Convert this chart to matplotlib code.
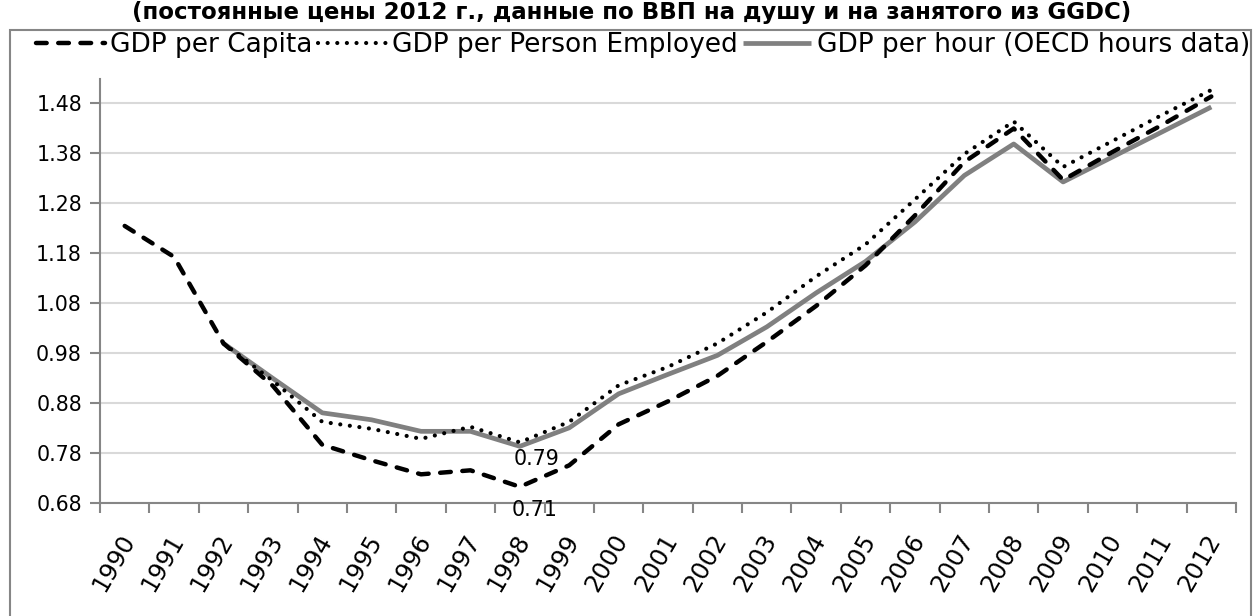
#!/usr/bin/env python3
# -*- coding: utf-8 -*-

import matplotlib
matplotlib.use('Agg')
import matplotlib.pyplot as plt
import matplotlib.transforms as mtransforms
from matplotlib.patches import Rectangle
import numpy as np

plt.rcParams['font.family'] = ['DejaVu Sans']

years = [str(y) for y in range(1990, 2013)]

# GDP per capita, 1990-2012 (1992 = 1)
per_capita = [1.235, 1.173, 1.0, 0.915, 0.797, 0.766, 0.738, 0.746, 0.713, 0.756,
              0.838, 0.884, 0.935, 1.003, 1.075, 1.156, 1.256, 1.363, 1.43, 1.327,
              1.383, 1.437, 1.494]
# GDP per person employed, starts 1992
per_employed = [None, None, 1.0, 0.925, 0.843, 0.829, 0.809, 0.833, 0.802, 0.843,
                0.916, 0.953, 1.0, 1.062, 1.134, 1.198, 1.288, 1.379, 1.444, 1.353,
                1.405, 1.457, 1.507]
# GDP per hour (OECD hours), starts 1992
per_hour = [None, None, 1.0, 0.93, 0.861, 0.847, 0.824, 0.824, 0.794, 0.831,
            0.899, 0.938, 0.976, 1.033, 1.101, 1.164, 1.243, 1.336, 1.399, 1.323,
            1.373, 1.423, 1.473]

yticks = [0.68, 0.78, 0.88, 0.98, 1.08, 1.18, 1.28, 1.38, 1.48]
title = '(постоянные цены 2012 г., данные по ВВП на душу и на занятого из GGDC)'

W, H = 1254, 616
fig = plt.figure(figsize=(W/100, H/100), dpi=100)
ax = fig.add_axes([100/W, 1-503.3/H, 1136/W, 424.3/H])

x = np.arange(len(years))
pe = np.array([np.nan if v is None else v for v in per_employed])
ph = np.array([np.nan if v is None else v for v in per_hour])

l1, = ax.plot(x, per_capita, color='black', lw=3.2, ls=(0, (2.4, 2.6)),
              dash_capstyle='round', label='GDP per Capita', zorder=4)
l2, = ax.plot(x, pe, color='black', lw=3, ls=(0, (0.01, 2.3)),
              dash_capstyle='round', label='GDP per Person Employed', zorder=5)
l3, = ax.plot(x, ph, color='#808080', lw=3.4, solid_capstyle='butt',
              label='GDP per hour (OECD hours data)', zorder=3)

fs = 14.8
ax.annotate('0.79', (8, per_hour[8]), xytext=(12, -9), textcoords='offset points',
            ha='center', va='center', fontsize=fs)
ax.annotate('0.71', (8, per_capita[8]), xytext=(10.5, -17), textcoords='offset points',
            ha='center', va='center', fontsize=fs)

ax.set_xlim(-0.5, len(years) - 0.5)
ax.set_ylim(0.68, 1.529)
ax.set_yticks(yticks)
ax.set_yticklabels(['%.2f' % v for v in yticks], fontsize=fs)
ax.grid(axis='y', color='#d9d9d9', lw=1.5)
ax.set_axisbelow(True)

ax.set_xticks(x)
ax.set_xticklabels(years, fontsize=17.5, rotation=60, ha='right', va='center',
                   rotation_mode='anchor')
ax.set_xticks(np.arange(len(years) + 1) - 0.5, minor=True)
ax.tick_params(axis='x', which='major', length=0, pad=0)
ax.tick_params(axis='x', which='minor', length=7, width=1.5, color='#868686')
ax.tick_params(axis='y', length=7, width=1.5, color='#868686', pad=6)
off = mtransforms.ScaledTranslation(0.04, -0.33, fig.dpi_scale_trans)
for lab in ax.get_xticklabels():
    lab.set_transform(lab.get_transform() + off)

for s in ['top', 'right']:
    ax.spines[s].set_visible(False)
for s in ['left', 'bottom']:
    ax.spines[s].set_color('#868686')
    ax.spines[s].set_linewidth(1.5)

fig.legend(handles=[l1, l2, l3], loc='center', bbox_to_anchor=(643/W, 1-45/H),
           ncol=3, frameon=False, fontsize=19, handlelength=2.6,
           handletextpad=0.2, columnspacing=0.2, borderpad=0, borderaxespad=0)

fig.text(632/W, 1-19/H, title, ha='center', va='baseline', fontsize=16.5,
         fontweight='bold')
fig.add_artist(Rectangle((10/W, -0.05), 1241/W, 1.05-30/H, transform=fig.transFigure,
                         fill=False, edgecolor='#868686', lw=1.5))

fig.savefig('out.png', dpi=100)
